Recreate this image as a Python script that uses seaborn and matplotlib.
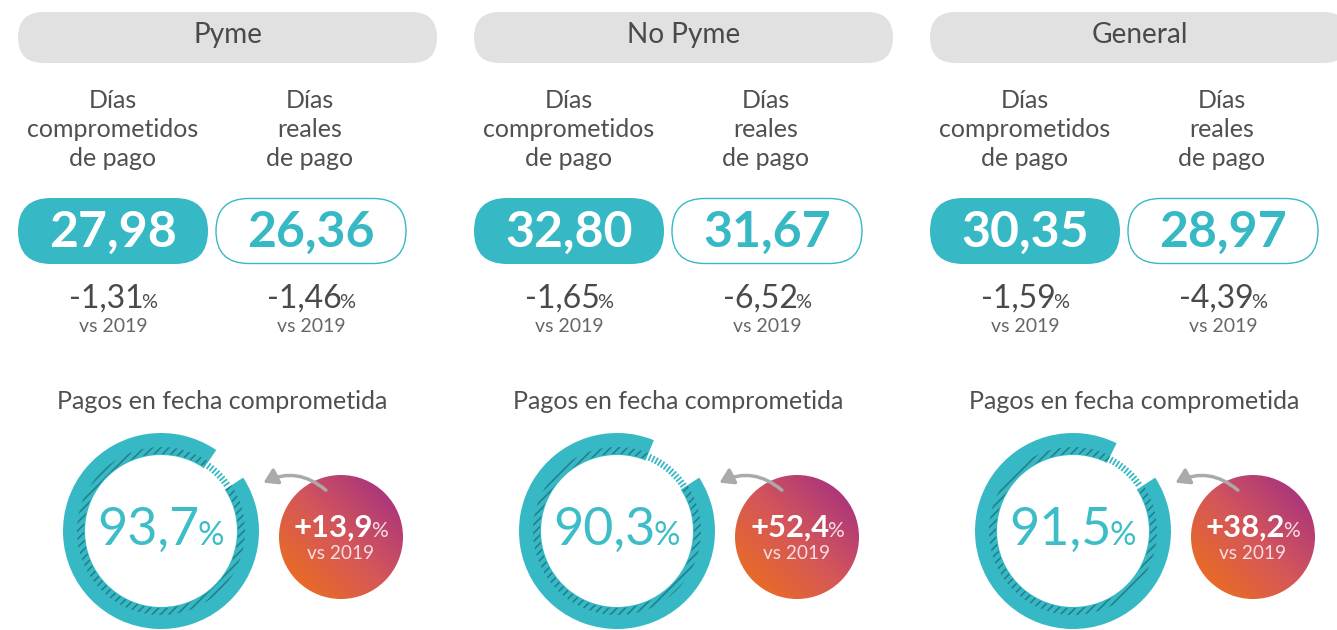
import numpy as np
import matplotlib
matplotlib.use("Agg")
import matplotlib.pyplot as plt
import seaborn as sns
from matplotlib.patches import FancyBboxPatch, Wedge, Circle, FancyArrowPatch

segments = ["Pyme", "No Pyme", "General"]
dias_comprometidos = [27.98, 32.80, 30.35]
dias_reales = [26.36, 31.67, 28.97]
var_comprometidos = [-1.31, -1.65, -1.59]
var_reales = [-1.46, -6.52, -4.39]
pagos_en_fecha = [93.7, 90.3, 91.5]
var_pagos = [13.9, 52.4, 38.2]

sns.set_theme(style="white")
plt.rcParams["font.family"] = ["Lato", "DejaVu Sans"]
plt.rcParams["hatch.linewidth"] = 1.2

TEAL = "#36B9C5"
DARK = "#4a4a4a"
GREY = "#666666"
PT = 0.72  # px -> pt at dpi 100

fig = plt.figure(figsize=(13.37, 6.30), dpi=100)
ax = fig.add_axes([0, 0, 1, 1])
ax.set_xlim(0, 1337)
ax.set_ylim(630, 0)
ax.axis("off")
fig.canvas.draw()
renderer = fig.canvas.get_renderer()


def fmt(v, nd):
    return f"{v:.{nd}f}".replace(".", ",")


def two_part(x, y, big, small, s_big, s_small, color, w_big="normal", w_small="normal", c_small=None, gap=-2):
    t1 = ax.text(0, y, big, fontsize=s_big, color=color, fontweight=w_big, ha="left", va="baseline", zorder=4)
    t2 = ax.text(0, y, small, fontsize=s_small, color=c_small or color, fontweight=w_small, ha="left",
                 va="baseline", zorder=4)
    w1 = t1.get_window_extent(renderer).width
    w2 = t2.get_window_extent(renderer).width
    x0 = x - (w1 + w2 + gap) / 2
    t1.set_x(x0)
    t2.set_x(x0 + w1 + gap)


gradient = sns.blend_palette(["#F07314", "#D4565A", "#9C2A87"], as_cmap=True)
gx, gy = np.meshgrid(np.linspace(0, 1, 200), np.linspace(0, 1, 200))
grad_img = (gx + (1 - gy)) / 2  # bottom-left orange -> top-right purple

for i, seg in enumerate(segments):
    off = 456 * i

    # header pill
    ax.add_patch(FancyBboxPatch((18 + off, 12), 419, 51,
                                boxstyle="round,pad=0,rounding_size=25.5",
                                fc="#E1E1E1", ec="none"))
    ax.text(228 + off, 43, seg, fontsize=28 * PT, color=DARK, ha="center", va="baseline")

    # column titles
    for cx, lines in [(113 + off, ["Días", "comprometidos", "de pago"]),
                      (310 + off, ["Días", "reales", "de pago"])]:
        for k, ln in enumerate(lines):
            ax.text(cx, 108 + 29 * k, ln, fontsize=25 * PT, color="#505050",
                    ha="center", va="baseline")

    # value boxes
    ax.add_patch(FancyBboxPatch((18 + off, 198), 190, 66,
                                boxstyle="round,pad=0,rounding_size=33",
                                fc=TEAL, ec="none"))
    ax.add_patch(FancyBboxPatch((216 + off, 198.5), 190, 65,
                                boxstyle="round,pad=0,rounding_size=32.5",
                                fc="white", ec=TEAL, lw=1))
    ax.text(113 + off, 247, fmt(dias_comprometidos[i], 2), fontsize=50 * PT,
            fontweight="bold", color="white", ha="center", va="baseline")
    ax.text(311 + off, 247, fmt(dias_reales[i], 2), fontsize=50 * PT,
            fontweight="bold", color=TEAL, ha="center", va="baseline")

    # variations vs 2019
    for cx, v in [(113 + off, var_comprometidos[i]), (311 + off, var_reales[i])]:
        two_part(cx, 308, fmt(v, 2), "%", 32 * PT, 20 * PT, DARK)
        ax.text(cx, 332, "vs 2019", fontsize=19.5 * PT, color=GREY, ha="center", va="baseline")

    ax.text(222 + off, 409, "Pagos en fecha comprometida", fontsize=25 * PT,
            color="#505050", ha="center", va="baseline")

    # ring (y axis is inverted, so data angles run clockwise on screen)
    rcx, rcy, r_out, width = 161 + off, 531, 98, 22
    start = -33.0
    end = start + pagos_en_fecha[i] / 100 * 360
    ax.add_patch(Wedge((rcx, rcy), r_out, start, end, width=width, fc=TEAL, ec="none"))
    ax.add_patch(Wedge((rcx, rcy), r_out - width + 8, start, end, width=7,
                       fc="none", ec="#24808A", hatch="////", lw=0))
    # dashes in the gap
    for th in np.arange(end + 2.0, start + 360 - 0.8, 2.6):
        t = np.deg2rad(th)
        r0, r1 = r_out - width + 1, r_out - width + 8
        ax.plot([rcx + r0 * np.cos(t), rcx + r1 * np.cos(t)],
                [rcy + r0 * np.sin(t), rcy + r1 * np.sin(t)],
                color=TEAL, lw=1.3, solid_capstyle="butt")
    two_part(rcx, 545, fmt(pagos_en_fecha[i], 1), "%", 52 * PT, 33 * PT, "#3DBDC8")

    # gradient bubble
    bcx, bcy, br = 341 + off, 537, 62
    im = ax.imshow(grad_img, cmap=gradient, extent=(bcx - br, bcx + br, bcy + br, bcy - br),
                   interpolation="bilinear", zorder=2)
    clip = Circle((bcx, bcy), br, transform=ax.transData)
    im.set_clip_path(clip)
    two_part(bcx, 537, "+" + fmt(var_pagos[i], 1), "%", 31 * PT, 21 * PT, "white",
             w_big="bold", c_small="#F5DDE6")
    ax.text(bcx, 559, "vs 2019", fontsize=19 * PT, color="#F5DDE6", ha="center",
            va="baseline", zorder=4)

    # arrow from bubble to ring
    ax.add_patch(FancyArrowPatch((328 + off, 492), (261 + off, 484),
                                 connectionstyle="arc3,rad=0.35",
                                 arrowstyle="-|>,head_length=8,head_width=5",
                                 color="#AAAAAA", lw=2.5, zorder=3))

ax.set_xlim(0, 1337)
ax.set_ylim(630, 0)
ax.set_aspect("auto")
fig.savefig("out.png", dpi=100)
